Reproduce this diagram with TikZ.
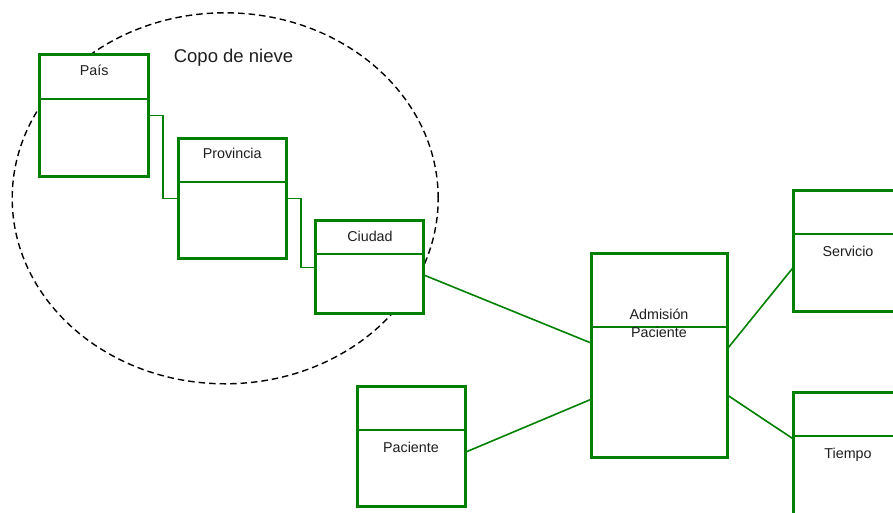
\documentclass[tikz,border=0pt]{standalone}
\usepackage{fontspec}
\setmainfont{Liberation Sans}
\usetikzlibrary{calc,shapes.geometric}
\definecolor{tabgreen}{RGB}{0,128,0}
\definecolor{labelgray}{RGB}{30,30,30}
\begin{document}
\begin{tikzpicture}[x=1pt,y=-1pt,
  tablebox/.style={draw=tabgreen, line width=3pt, fill=white, rectangle,
    inner sep=0pt, outer sep=0pt},
  divider/.style={draw=tabgreen, line width=2.3pt},
  link/.style={draw=tabgreen, line width=1.6pt},
  elbow/.style={draw=tabgreen, line width=1.3pt},
  tlabel/.style={anchor=base, inner sep=0pt, text=labelgray,
    font=\fontsize{14.3}{18.7}\selectfont},
  group/.style={ellipse, draw=black, line width=1.4pt,
    dash pattern=on 6.5pt off 4pt, inner sep=0pt},
]
\useasboundingbox (0,0) rectangle (893,512);
\clip (0,0) rectangle (893,512);

% snowflake group outline
\node[group, minimum width=426pt, minimum height=371pt] (snow) at (225.2,198.3) {};
\node[anchor=base, inner sep=0pt, text=labelgray,
  font=\fontsize{18.5}{22}\selectfont] (snowlbl) at (233.5,62.7) {Copo de nieve};

% tables
\node[tablebox, minimum width=108.7pt, minimum height=122.3pt] (pais) at (94.3,115.8) {};
\node[tablebox, minimum width=108pt, minimum height=120.3pt] (prov) at (232.2,198.3) {};
\node[tablebox, minimum width=108pt, minimum height=93pt] (ciudad) at (369.8,267.3) {};
\node[tablebox, minimum width=135.4pt, minimum height=203.7pt] (adm) at (659.5,355.3) {};
\node[tablebox, minimum width=107.7pt, minimum height=119.7pt] (pac) at (411.3,446.3) {};
\node[tablebox, minimum width=108pt, minimum height=120.7pt] (serv) at (847.8,251.2) {};
\node[tablebox, minimum width=108pt, minimum height=140pt] (tiempo) at (847.8,462.2) {};

% header dividers
\draw[divider] ($(pais.north west)+(0,44)$) -- ($(pais.north east)+(0,44)$);
\draw[divider] ($(prov.north west)+(0,43.8)$) -- ($(prov.north east)+(0,43.8)$);
\draw[divider] ($(ciudad.north west)+(0,33.5)$) -- ($(ciudad.north east)+(0,33.5)$);
\draw[divider] ($(adm.north west)+(0,73.5)$) -- ($(adm.north east)+(0,73.5)$);
\draw[divider] ($(pac.north west)+(0,43.5)$) -- ($(pac.north east)+(0,43.5)$);
\draw[divider] ($(serv.north west)+(0,43.2)$) -- ($(serv.north east)+(0,43.2)$);
\draw[divider] ($(tiempo.north west)+(0,43.8)$) -- ($(tiempo.north east)+(0,43.8)$);

% connectors
\draw[elbow] (pais.east) -- ++(14.3,0) |- (prov.west);
\draw[elbow] (prov.east) -- ++(14.8,0) |- (ciudad.west);
\draw[link] ($(ciudad.east)+(0,7.7)$) -- ($(adm.west)+(0,-12)$);
\draw[link] ($(pac.east)+(0,6)$) -- ($(adm.west)+(0,43.7)$);
\draw[link] ($(adm.east)+(0,-6.3)$) -- ($(serv.west)+(0,15.5)$);
\draw[link] ($(adm.east)+(0,39.7)$) -- ($(tiempo.north west)+(0,47.1)$);

% table names
\node[tlabel] (paislbl) at (94.2,75.3) {País};
\node[tlabel] (provlbl) at (232.2,158.3) {Provincia};
\node[tlabel] (ciudadlbl) at (370,241.3) {Ciudad};
\node[tlabel, anchor=center, align=center] (admlbl) at (659,323.3) {Admisión\\Paciente};
\node[tlabel] (paclbl) at (411,452.3) {Paciente};
\node[tlabel] (servlbl) at (848,256.3) {Servicio};
\node[tlabel] (tiempolbl) at (848,458.7) {Tiempo};
\end{tikzpicture}
\end{document}
